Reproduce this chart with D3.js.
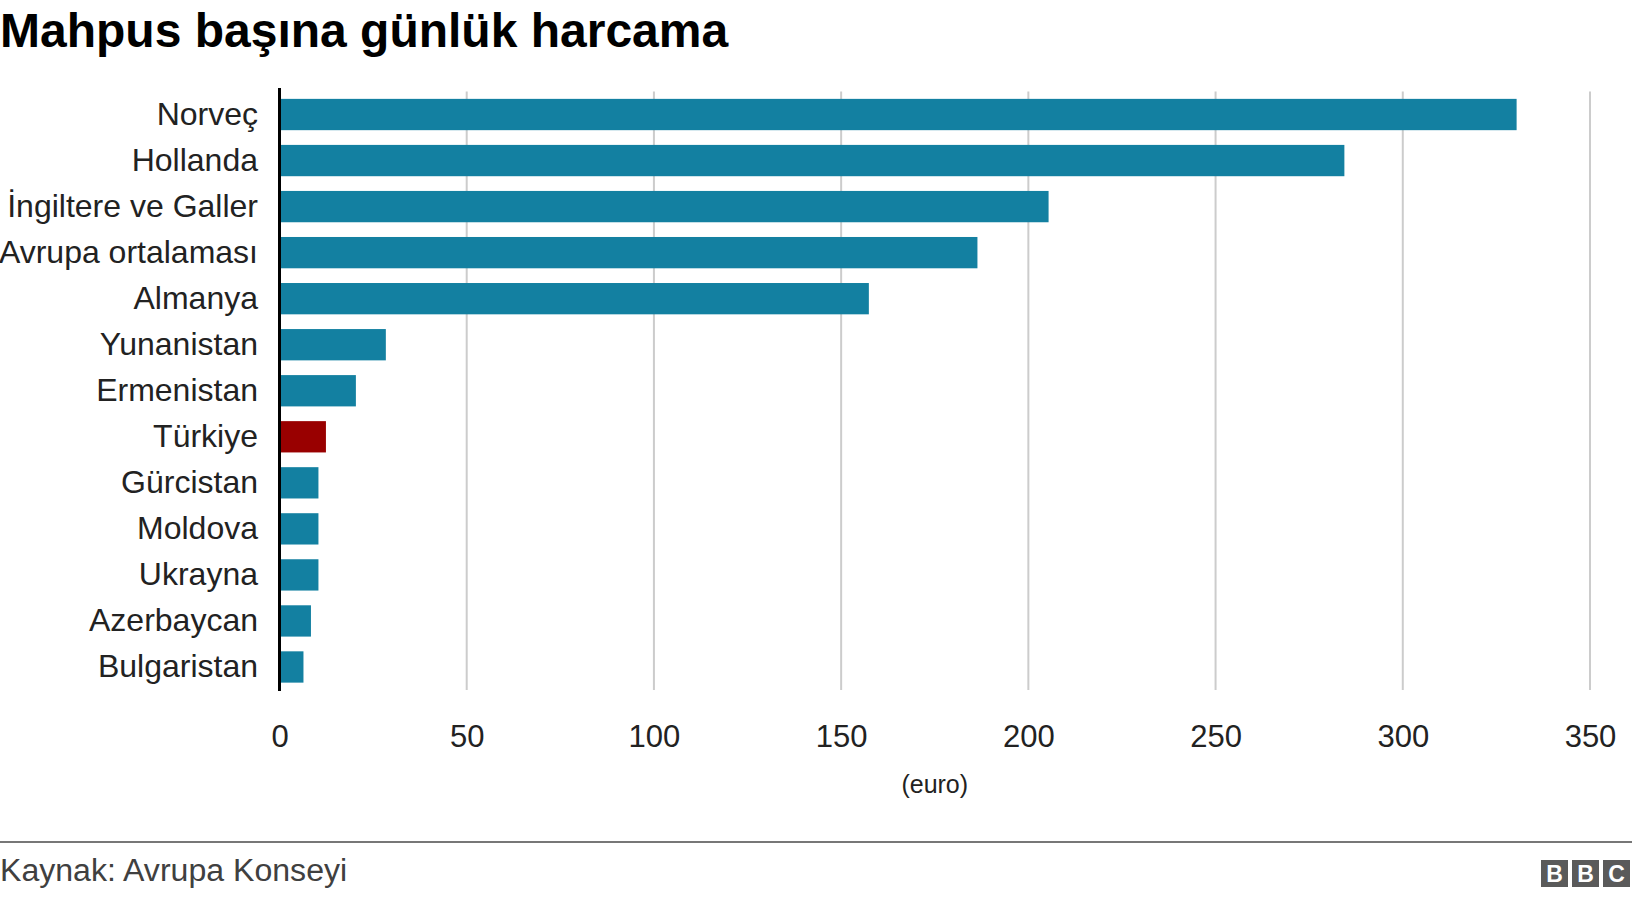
<!DOCTYPE html>
<html>
<head>
<meta charset="utf-8">
<script src="https://cdnjs.cloudflare.com/ajax/libs/d3/7.8.5/d3.min.js"></script>
<style>
  html, body { margin: 0; padding: 0; background: #fff; }
  svg { display: block; font-family: "Liberation Sans", Arial, Helvetica, sans-serif; }
</style>
</head>
<body>
<svg id="chart" width="1632" height="898"></svg>
<script>
// ---- data ----
const countries = ["Norveç", "Hollanda", "İngiltere ve Galler", "Avrupa ortalaması", "Almanya",
  "Yunanistan", "Ermenistan", "Türkiye", "Gürcistan", "Moldova", "Ukrayna", "Azerbaycan", "Bulgaristan"];
const values = [330, 284, 205, 186, 157, 28, 20, 12, 10, 10, 10, 8, 6];
const highlighted = ["Türkiye"];
const xTicks = [0, 50, 100, 150, 200, 250, 300, 350];
const titleText = "Mahpus başına günlük harcama";
const axisLabel = "(euro)";
const sourceText = "Kaynak: Avrupa Konseyi";
const logoLetters = ["B", "B", "C"];

const data = countries.map((c, i) => ({ name: c, value: values[i] }));

const W = 1632, H = 898;
const svg = d3.select("#chart");

const x = d3.scaleLinear().domain([0, 350]).range([279.5, 1590]);
const y = d3.scaleBand().domain(countries).range([91.5, 690]).paddingInner(0.32).paddingOuter(0.16);

// title
svg.append("text").attr("x", 0).attr("y", 47)
  .attr("font-size", 48).attr("font-weight", "bold").attr("fill", "#000")
  .text(titleText);

// gridlines
svg.append("g").selectAll("line").data(xTicks.filter(t => t > 0)).join("line")
  .attr("x1", d => x(d)).attr("x2", d => x(d))
  .attr("y1", 91.5).attr("y2", 690)
  .attr("stroke", "#cccccc").attr("stroke-width", 2);

// bars (start just right of the axis line)
const barOffset = 1.5;
svg.append("g").selectAll("rect").data(data).join("rect")
  .attr("x", x(0) + barOffset).attr("y", d => y(d.name))
  .attr("width", d => x(d.value) - x(0)).attr("height", y.bandwidth())
  .attr("fill", d => highlighted.includes(d.name) ? "#990000" : "#1380A1");

// y axis line
svg.append("line").attr("x1", x(0)).attr("x2", x(0)).attr("y1", 88).attr("y2", 691)
  .attr("stroke", "#000").attr("stroke-width", 3);

// category labels
svg.append("g").selectAll("text").data(countries).join("text")
  .attr("x", 258).attr("y", d => y(d) + y.bandwidth() / 2)
  .attr("dy", "0.32em").attr("text-anchor", "end")
  .attr("font-size", 32).attr("fill", "#222")
  .text(d => d);

// x tick labels
const xAxis = d3.axisBottom(x).tickValues(xTicks).tickSize(0).tickPadding(0);
const gx = svg.append("g").attr("transform", "translate(0,725)").call(xAxis);
gx.select(".domain").remove();
gx.selectAll("text").attr("font-size", 31).attr("fill", "#222")
  .attr("font-family", "'Liberation Sans', Arial, sans-serif");

// axis label
svg.append("text").attr("x", (x(0) + x(350)) / 2).attr("y", 793)
  .attr("text-anchor", "middle").attr("font-size", 25).attr("fill", "#222")
  .text(axisLabel);

// footer
svg.append("line").attr("x1", 0).attr("x2", W).attr("y1", 842).attr("y2", 842)
  .attr("stroke", "#777").attr("stroke-width", 2);
svg.append("text").attr("x", 0).attr("y", 881)
  .attr("font-size", 32.1).attr("fill", "#404040")
  .text(sourceText);

// BBC logo
const logo = svg.append("g");
logoLetters.forEach((l, i) => {
  const bx = 1541 + i * 31;
  logo.append("rect").attr("x", bx).attr("y", 860).attr("width", 27).attr("height", 27).attr("fill", "#5a5a5a");
  logo.append("text").attr("x", bx + 13.5).attr("y", 882).attr("text-anchor", "middle")
    .attr("font-size", 23).attr("font-weight", "bold").attr("fill", "#fff").text(l);
});
</script>
</body>
</html>
